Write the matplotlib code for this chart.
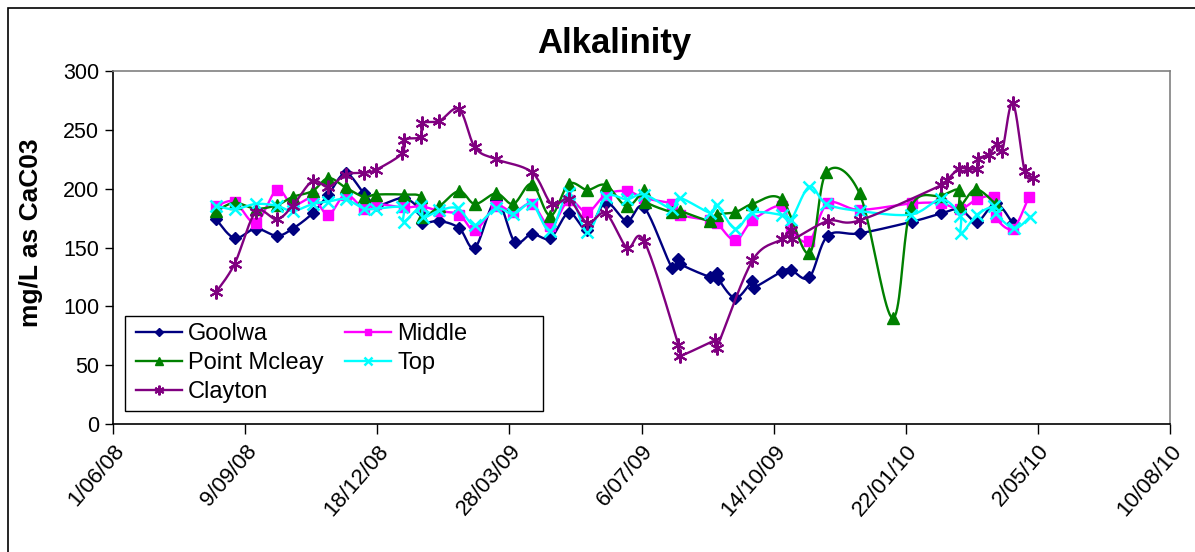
import datetime as dt
import numpy as np
import matplotlib
matplotlib.use("Agg")
import matplotlib.pyplot as plt
import matplotlib.dates as mdates
from matplotlib.lines import Line2D
from matplotlib.patches import Rectangle

plt.rcParams['font.family'] = ['Liberation Sans', 'DejaVu Sans']

# sample dates and alkalinity (mg/L as CaCO3) per site
goolwa_dates = ["2008-08-18", "2008-09-01", "2008-09-17", "2008-10-03", "2008-10-15", "2008-10-30",
                "2008-11-11", "2008-11-24", "2008-12-08", "2008-12-18", "2009-01-07", "2009-01-20",
                "2009-01-21", "2009-02-03", "2009-02-18", "2009-03-02", "2009-03-18", "2009-04-01",
                "2009-04-14", "2009-04-28", "2009-05-12", "2009-05-26", "2009-06-09", "2009-06-25",
                "2009-07-08", "2009-07-29", "2009-08-03", "2009-08-04", "2009-08-27", "2009-09-01",
                "2009-09-02", "2009-09-15", "2009-09-28", "2009-09-29", "2009-10-20", "2009-10-27",
                "2009-11-10", "2009-11-24", "2009-12-18", "2010-01-27", "2010-02-18", "2010-03-04",
                "2010-03-17", "2010-03-31", "2010-04-13"]
goolwa_vals = [174, 158, 166, 160, 166, 179, 195, 213, 196, 186, 192, 181,
               171, 172.5, 166.5, 150, 190, 155, 161.5, 158, 179.5, 165, 188, 172.5,
               184, 133, 140, 136, 125, 128, 123.5, 107, 121.5, 116, 129.5, 131,
               124.6, 160, 162, 172, 179, 182.5, 172, 187.5, 170.5]

middle_dates = ["2008-08-18", "2008-09-01", "2008-09-17", "2008-10-03", "2008-10-15", "2008-10-30",
                "2008-11-11", "2008-11-24", "2008-12-08", "2008-12-17", "2009-01-07", "2009-01-20",
                "2009-02-03", "2009-02-18", "2009-03-02", "2009-03-18", "2009-03-31", "2009-04-14",
                "2009-04-28", "2009-05-12", "2009-05-26", "2009-06-09", "2009-06-25", "2009-07-08",
                "2009-07-29", "2009-08-04", "2009-08-27", "2009-09-01", "2009-09-15", "2009-09-28",
                "2009-10-20", "2009-10-27", "2009-11-10", "2009-11-24", "2009-12-18", "2010-01-27",
                "2010-02-18", "2010-03-04", "2010-03-17", "2010-03-30", "2010-03-31", "2010-04-13",
                "2010-04-25"]
middle_vals = [185, 189, 171, 199, 186, 192, 178, 195, 183, 187, 184, 185,
               181, 178, 165, 185, 180, 187, 168, 190, 180, 195, 198, 192,
               187, 178, 173, 171, 156, 173, 185.5, 165, 155.5, 187.5, 182, 187.5,
               187.5, 182.5, 191, 193, 176, 166, 192.5]

mcleay_dates = ["2008-08-18", "2008-09-01", "2008-09-17", "2008-10-03", "2008-10-15", "2008-10-30",
                "2008-11-11", "2008-11-24", "2008-12-08", "2008-12-17", "2009-01-07", "2009-01-20",
                "2009-01-21", "2009-02-03", "2009-02-18", "2009-03-02", "2009-03-18", "2009-03-31",
                "2009-04-14", "2009-04-28", "2009-05-12", "2009-05-26", "2009-06-09", "2009-06-25",
                "2009-07-08", "2009-07-09", "2009-07-29", "2009-08-04", "2009-08-27", "2009-09-01",
                "2009-09-15", "2009-09-28", "2009-10-20", "2009-11-10", "2009-11-23", "2009-12-18",
                "2010-01-12", "2010-01-26", "2010-02-18", "2010-03-03", "2010-03-04", "2010-03-16",
                "2010-03-31"]
mcleay_vals = [181, 188, 183, 186, 193, 198, 209, 201, 193, 195, 195, 193,
               176, 185, 198, 187, 196, 187, 204, 177, 204, 199, 203, 185,
               199, 189, 180, 181, 172.5, 178, 180, 187, 191, 145, 214, 196,
               90, 184, 194, 199, 185, 199.5, 187]

top_dates = ["2008-08-18", "2008-09-01", "2008-09-17", "2008-10-03", "2008-10-15", "2008-10-30",
             "2008-11-11", "2008-11-24", "2008-12-08", "2008-12-17", "2009-01-06", "2009-01-07",
             "2009-01-20", "2009-01-22", "2009-02-03", "2009-02-17", "2009-03-02", "2009-03-18",
             "2009-03-31", "2009-04-14", "2009-04-28", "2009-05-12", "2009-05-26", "2009-06-09",
             "2009-06-25", "2009-07-08", "2009-07-29", "2009-08-04", "2009-08-27", "2009-09-01",
             "2009-09-15", "2009-09-28", "2009-10-20", "2009-10-27", "2009-11-10", "2009-11-23",
             "2009-12-18", "2010-01-26", "2010-02-18", "2010-03-04", "2010-03-05", "2010-03-17",
             "2010-03-30", "2010-03-31", "2010-04-14", "2010-04-26"]
top_vals = [185.5, 182.5, 187, 185.5, 181, 187, 189, 191, 183, 183, 184, 172,
            185, 175.5, 181.5, 183.3, 169, 183.3, 178.5, 187, 164.3, 196, 163, 193,
            191, 195, 183, 192, 179.5, 186, 166, 179.5, 177.6, 173.4, 201.7, 187,
            181, 178, 191, 177, 162, 178, 185, 179, 166.3, 176]

clayton_dates = ["2008-08-18", "2008-09-01", "2008-09-17", "2008-10-03", "2008-10-15", "2008-10-30",
                 "2008-11-11", "2008-11-24", "2008-12-08", "2008-12-17", "2009-01-06", "2009-01-07",
                 "2009-01-20", "2009-01-21", "2009-02-03", "2009-02-18", "2009-03-02", "2009-03-18",
                 "2009-04-14", "2009-04-29", "2009-05-12", "2009-05-26", "2009-06-09", "2009-06-25",
                 "2009-07-08", "2009-08-03", "2009-08-04", "2009-08-31", "2009-09-01", "2009-09-28",
                 "2009-10-20", "2009-10-27", "2009-10-28", "2009-11-24", "2009-12-18", "2010-02-18",
                 "2010-02-22", "2010-03-03", "2010-03-09", "2010-03-17", "2010-03-18", "2010-03-26",
                 "2010-04-01", "2010-04-05", "2010-04-13", "2010-04-22", "2010-04-28"]
clayton_vals = [112, 136, 180, 174, 185.5, 206.5, 201.5, 212, 213.6, 216, 230, 241.5,
                244, 255.5, 257.6, 267.5, 235, 225, 214, 187, 191, 171, 179, 150,
                155.5, 67, 58, 71, 65, 139, 157, 165, 157, 172.5, 173, 203,
                207, 217, 217, 217, 225.5, 229, 238, 232, 273, 215, 209]

x_start = dt.date(2008, 6, 1)
x_end = dt.date(2010, 8, 10)
y_ticks = [0, 50, 100, 150, 200, 250, 300]


def excel_smooth(ax, x, y, n=20):
    # Bezier curve through the points like Excel's "smoothed line", done in pixel space
    pts = ax.transData.transform(np.column_stack([x, y]))
    out = [pts[0]]
    m = len(pts)
    t = np.linspace(0, 1, n)[1:, None]
    for i in range(m - 1):
        p0 = pts[max(i - 1, 0)]
        p1 = pts[i]
        p2 = pts[i + 1]
        p3 = pts[min(i + 2, m - 1)]
        c1 = p1 + (p2 - p0) / 6.0
        c2 = p2 - (p3 - p1) / 6.0
        seg = (1 - t) ** 3 * p1 + 3 * (1 - t) ** 2 * t * c1 + 3 * (1 - t) * t ** 2 * c2 + t ** 3 * p2
        out.extend(seg)
    out = ax.transData.inverted().transform(np.array(out))
    return out[:, 0], out[:, 1]


fig = plt.figure(figsize=(11.95, 5.52), dpi=100)
ax = fig.add_axes([113 / 1195, 1 - 424 / 552, (1170 - 113) / 1195, (424 - 71) / 552])

ax.set_xlim(mdates.date2num(x_start), mdates.date2num(x_end))
ax.set_ylim(0, 300)

series = [
    ("Goolwa", goolwa_dates, goolwa_vals, "#000080", dict(marker="D", ms=6.5)),
    ("Middle", middle_dates, middle_vals, "#FF00FF", dict(marker="s", ms=7)),
    ("Point Mcleay", mcleay_dates, mcleay_vals, "#008000", dict(marker="^", ms=8)),
    ("Top", top_dates, top_vals, "#00FFFF", dict(marker="x", ms=8, mew=1.8)),
    ("Clayton", clayton_dates, clayton_vals, "#800080", dict(marker=(6, 2, 0), ms=10, mew=1.5)),
]

handles = {}
for k, (name, dates, vals, col, mk) in enumerate(series):
    xs = mdates.date2num([dt.date.fromisoformat(d) for d in dates])
    sx, sy = excel_smooth(ax, xs, vals)
    ax.plot(sx, sy, color=col, lw=1.7, zorder=2 + k, solid_joinstyle="round")
    ax.plot(xs, vals, linestyle="none", color=col, mec=col, zorder=2 + k, **mk)
    leg_mk = dict(mk)
    leg_mk["ms"] = mk["ms"] * 0.7
    handles[name] = Line2D([], [], color=col, lw=1.7, mec=col, **leg_mk)

# x ticks every 100 days from the start date
tick_days = [x_start + dt.timedelta(days=100 * i) for i in range(9)]
ax.set_xticks(mdates.date2num(tick_days))
ax.set_xticklabels([f"{d.day}/{d.month:02d}/{d.year % 100:02d}" for d in tick_days],
                   rotation=49, ha="right", rotation_mode="anchor", fontsize=16)
ax.set_yticks(y_ticks)
ax.set_yticklabels([str(v) for v in y_ticks], fontsize=15.5)
ax.tick_params(axis="x", direction="out", length=7, width=1, pad=5)
ax.tick_params(axis="y", direction="out", length=6, width=1, pad=4)

for side in ["top", "right"]:
    ax.spines[side].set_color("#808080")
    ax.spines[side].set_linewidth(1.2)
for side in ["left", "bottom"]:
    ax.spines[side].set_color("black")
    ax.spines[side].set_linewidth(1.2)

# legend box drawn as a rectangle, entries placed without a frame
ax.add_patch(Rectangle(((125 - 113) / 1057, (424 - 411) / 353), (543 - 125) / 1057, 95 / 353,
                       transform=ax.transAxes, facecolor="white", edgecolor="black",
                       linewidth=1.0, zorder=19))
order = ["Goolwa", "Point Mcleay", "Clayton", "Middle", "Top"]
leg = ax.legend([handles[n] for n in order], order, ncol=2, loc="upper left",
                bbox_to_anchor=((129 - 113) / 1057, (424 - 316) / 353),
                fontsize=17, frameon=False, handlelength=1.95, handletextpad=0.25,
                labelspacing=0.29, borderpad=0.3, columnspacing=0.92, borderaxespad=0)
leg.set_zorder(20)

fig.text(614 / 1195, 1 - 43 / 552, "Alkalinity", fontsize=25, fontweight="bold",
         ha="center", va="center")
fig.text(31 / 1195, 1 - 233 / 552, "mg/L as CaC03", fontsize=19, fontweight="bold",
         rotation=90, ha="center", va="center")

# chart-area border
fig.patches.append(Rectangle((8 / 1195, -0.1), 1.2, 1.1 - 8 / 552, transform=fig.transFigure,
                             fill=False, edgecolor="black", linewidth=1.2))

fig.savefig("out.png", dpi=100)
